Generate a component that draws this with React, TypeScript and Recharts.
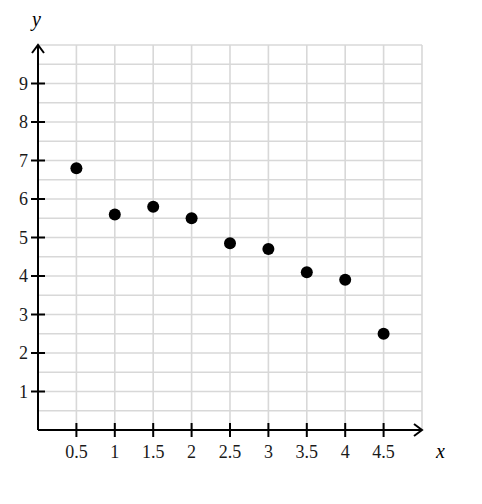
import React from 'react';
import { ScatterChart, Scatter, XAxis, YAxis, CartesianGrid } from 'recharts';

const xValues = [0.5, 1, 1.5, 2, 2.5, 3, 3.5, 4, 4.5];
const yValues = [6.8, 5.6, 5.8, 5.5, 4.85, 4.7, 4.1, 3.9, 2.5];
const xTicks = [0.5, 1, 1.5, 2, 2.5, 3, 3.5, 4, 4.5];
const yTicks = [1, 2, 3, 4, 5, 6, 7, 8, 9];
const gridX = [0.5, 1, 1.5, 2, 2.5, 3, 3.5, 4, 4.5, 5];
const gridY = [0.5, 1, 1.5, 2, 2.5, 3, 3.5, 4, 4.5, 5, 5.5, 6, 6.5, 7, 7.5, 8, 8.5, 9, 9.5, 10];

const points = xValues.map((x, i) => ({ x, y: yValues[i] }));

const FONT = '"Liberation Serif", "DejaVu Serif", serif';
const labelStyle = { fontFamily: FONT, fontSize: 18 };

const XTick = (props: any) => {
  const { x, y, payload } = props;
  return (
    <g>
      <line x1={x} x2={x} y1={y - 7} y2={y + 7} stroke='#000' strokeWidth={2} />
      <text x={x} y={y + 28} textAnchor='middle' style={labelStyle} fill='#1a1a1a'>
        {payload.value}
      </text>
    </g>
  );
};

const YTick = (props: any) => {
  const { x, y, payload } = props;
  return (
    <g>
      <line x1={x - 7} x2={x + 7} y1={y} y2={y} stroke='#000' strokeWidth={2} />
      <text x={x - 10} y={y + 6} textAnchor='end' style={labelStyle} fill='#1a1a1a'>
        {payload.value}
      </text>
    </g>
  );
};

const Dot = (props: any) => <circle cx={props.cx} cy={props.cy} r={6} fill='#000' />;

const App = () => {
  return (
    <div style={{ position: 'absolute', left: 0, top: 0, width: 482, height: 504 }}>
      <svg width={0} height={0} style={{ position: 'absolute' }}>
        <defs>
          <marker id='arrow' viewBox='0 0 11 14' refX={9} refY={7} markerWidth={11} markerHeight={14} markerUnits='userSpaceOnUse' orient='auto-start-reverse'>
            <path d='M1,1 L9,7 L1,13' fill='none' stroke='#000' strokeWidth={2} />
          </marker>
        </defs>
      </svg>
      <ScatterChart width={482} height={504} margin={{ top: 45, right: 60, left: 37, bottom: 73 }}>
        <CartesianGrid stroke='#d8d8d8' strokeWidth={1.6} horizontalValues={gridY} verticalValues={gridX} />
        <XAxis
          type='number'
          dataKey='x'
          domain={[0, 5]}
          ticks={xTicks}
          height={1}
          tickSize={0}
          tickMargin={0}
          tickLine={false}
          interval={0}
          tick={<XTick />}
          axisLine={{ stroke: '#000', strokeWidth: 2, markerEnd: 'url(#arrow)' }}
        />
        <YAxis
          type='number'
          dataKey='y'
          domain={[0, 10]}
          ticks={yTicks}
          width={1}
          tickSize={0}
          tickMargin={0}
          tickLine={false}
          interval={0}
          tick={<YTick />}
          axisLine={{ stroke: '#000', strokeWidth: 2, markerStart: 'url(#arrow)' }}
        />
        <Scatter data={points} fill='#000' shape={<Dot />} isAnimationActive={false} />
      </ScatterChart>
      <div style={{ position: 'absolute', left: 32, top: 8, fontFamily: FONT, fontStyle: 'italic', fontSize: 20 }}>y</div>
      <div style={{ position: 'absolute', left: 436, top: 440, fontFamily: FONT, fontStyle: 'italic', fontSize: 20 }}>x</div>
    </div>
  );
};

export default App;
